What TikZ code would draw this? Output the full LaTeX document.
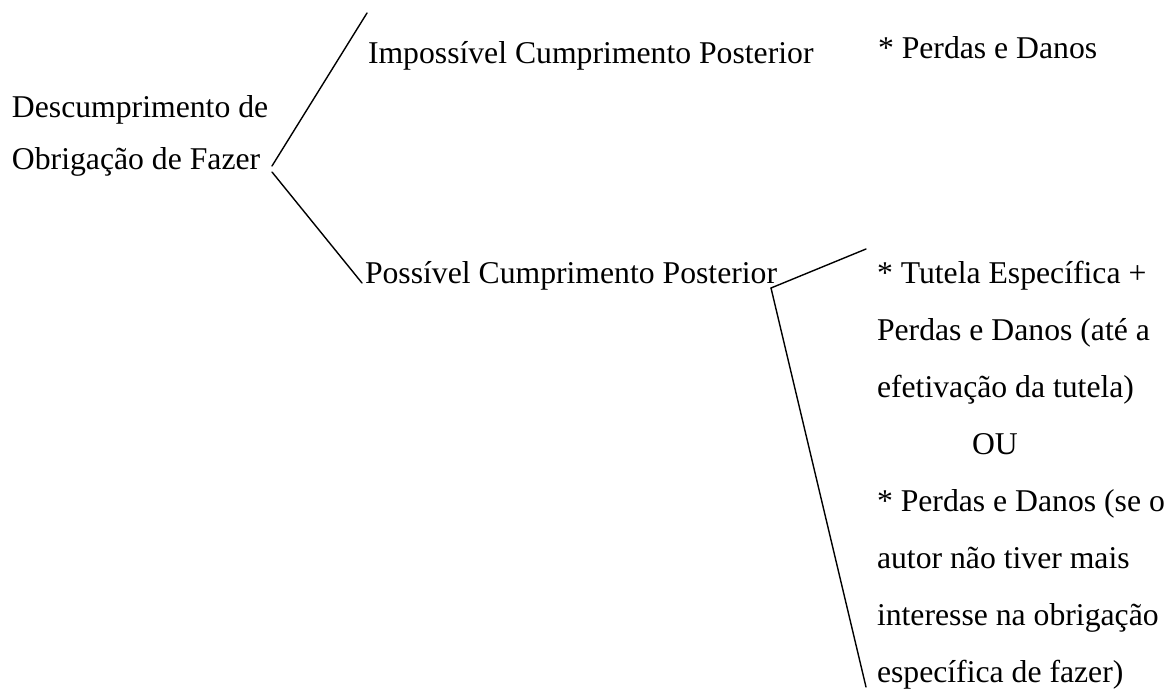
\documentclass[tikz,border=0pt]{standalone}
\usepackage{fontspec}
\setmainfont{Liberation Serif}
\begin{document}
\begin{tikzpicture}[x=1pt,y=-1pt,
  txt/.style={anchor=base west,inner sep=0pt,outer sep=0pt,font=\fontsize{31.7}{38}\selectfont},
  conn/.style={line width=1.4pt,line cap=round}]
\useasboundingbox (0,0) rectangle (1169,689);
% left column
\node[txt] (d1) at (12,117) {Descumprimento de};
\node[txt] (d2) at (12,169) {Obrigação de Fazer};
% middle column
\node[txt] (imp) at (368,63) {Impossível Cumprimento Posterior};
\node[txt] (pos) at (365,283) {Possível Cumprimento Posterior};
% right column
\node[txt] (pd) at (878,58) {* Perdas e Danos};
\node[txt] (r1) at (877,283) {* Tutela Específica +};
\node[txt] (r2) at (877,340) {Perdas e Danos (até a};
\node[txt] (r3) at (877,397) {efetivação da tutela)};
\node[txt] (ou) at (972,454) {OU};
\node[txt] (r5) at (877,511) {* Perdas e Danos (se o};
\node[txt] (r6) at (877,568) {autor não tiver mais};
\node[txt] (r7) at (877,625) {interesse na obrigação};
\node[txt] (r8) at (877,682) {específica de fazer)};
% connector end points
\coordinate (v1a) at (272,166);
\coordinate (v1b) at (272,172);
\coordinate (t1) at (367,13);
\coordinate (t2) at (362,283);
\coordinate (v2) at (771,288);
\coordinate (t3) at (866,249);
\coordinate (t4) at (866,687);
\draw[conn] (v1a) -- (t1);
\draw[conn] (v1b) -- (t2);
\draw[conn] (v2) -- (t3);
\draw[conn] (v2) -- (t4);
\end{tikzpicture}
\end{document}
